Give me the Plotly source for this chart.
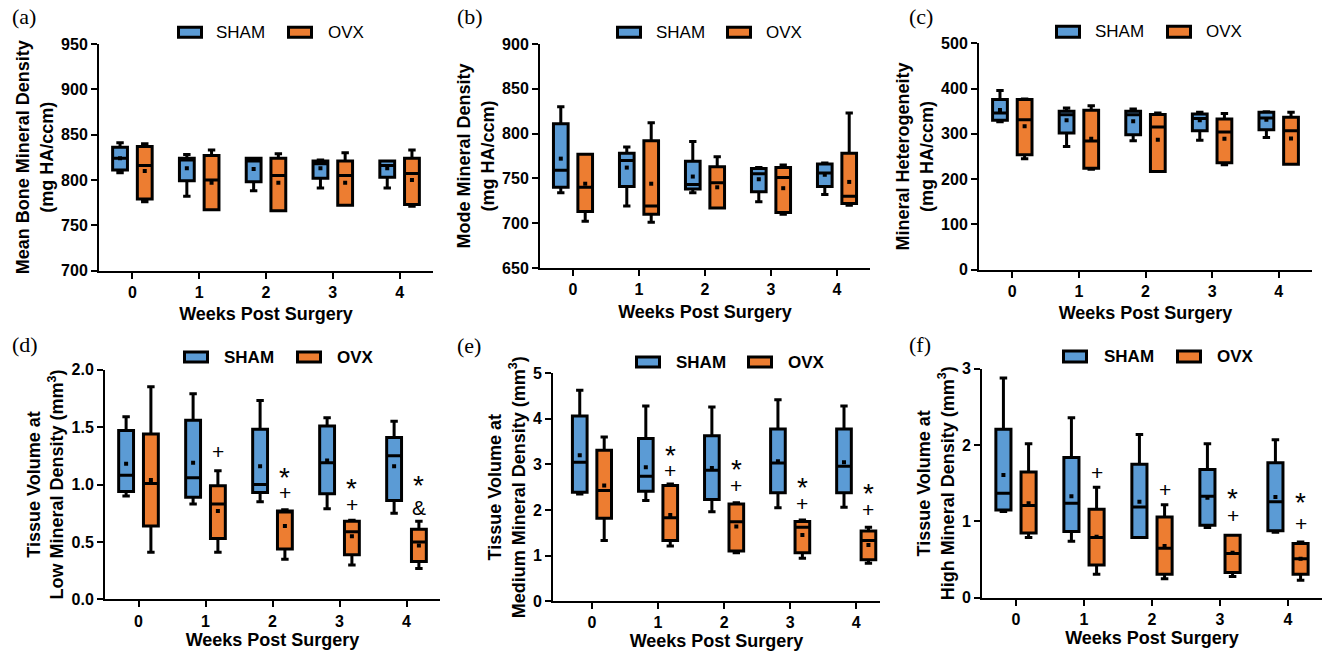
import plotly.graph_objects as go

# ---------------- data ----------------
weeks = [0, 1, 2, 3, 4]
tick_labels = ["0", "1", "2", "3", "4"]

# (a) Mean Bone Mineral Density
a_sham_lo = [808, 782, 788, 791, 791]
a_sham_q1 = [811, 799, 798, 802, 803]
a_sham_med = [824, 822, 821, 818, 816]
a_sham_q3 = [836, 824, 824, 821, 821]
a_sham_hi = [841, 828, 824, 822, 821]
a_sham_mean = [824, 813, 812, 813, 813]
a_ovx_lo = [776, 767, 766, 772, 771]
a_ovx_q1 = [779, 767, 766, 772, 773]
a_ovx_med = [816, 800, 805, 805, 807]
a_ovx_q3 = [837, 827, 824, 821, 824]
a_ovx_hi = [840, 833, 829, 830, 833]
a_ovx_mean = [810, 797, 797, 797, 800]

# (b) Mode Mineral Density
b_sham_lo = [734, 719, 734, 724, 732]
b_sham_q1 = [740, 741, 738, 735, 741]
b_sham_med = [759, 770, 743, 755, 756]
b_sham_q3 = [811, 778, 769, 761, 766]
b_sham_hi = [830, 785, 791, 762, 767]
b_sham_mean = [772, 762, 752, 749, 754]
b_ovx_lo = [702, 701, 717, 710, 720]
b_ovx_q1 = [713, 710, 717, 712, 722]
b_ovx_med = [740, 719, 745, 751, 730]
b_ovx_q3 = [777, 792, 763, 762, 778]
b_ovx_hi = [777, 812, 774, 765, 823]
b_ovx_mean = [744, 744, 740, 739, 746]

# (c) Mineral Heterogeneity
c_sham_lo = [327, 272, 285, 286, 292]
c_sham_q1 = [330, 302, 298, 307, 309]
c_sham_med = [346, 342, 342, 334, 335]
c_sham_q3 = [376, 350, 350, 344, 348]
c_sham_hi = [396, 357, 355, 348, 349]
c_sham_mean = [353, 330, 328, 330, 331]
c_ovx_lo = [245, 222, 217, 232, 233]
c_ovx_q1 = [254, 224, 217, 236, 233]
c_ovx_med = [331, 284, 315, 304, 307]
c_ovx_q3 = [376, 352, 343, 333, 337]
c_ovx_hi = [377, 362, 346, 345, 348]
c_ovx_mean = [317, 289, 287, 289, 290]

# (d) Tissue Volume at Low Mineral Density
d_sham_lo = [0.90, 0.83, 0.85, 0.79, 0.75]
d_sham_q1 = [0.94, 0.89, 0.93, 0.92, 0.86]
d_sham_med = [1.08, 1.06, 1.00, 1.19, 1.25]
d_sham_q3 = [1.47, 1.56, 1.48, 1.51, 1.41]
d_sham_hi = [1.59, 1.79, 1.73, 1.58, 1.55]
d_sham_mean = [1.18, 1.19, 1.16, 1.21, 1.16]
d_ovx_lo = [0.41, 0.41, 0.35, 0.30, 0.27]
d_ovx_q1 = [0.64, 0.53, 0.44, 0.39, 0.33]
d_ovx_med = [1.01, 0.83, 0.77, 0.59, 0.50]
d_ovx_q3 = [1.44, 0.99, 0.77, 0.68, 0.61]
d_ovx_hi = [1.85, 1.12, 0.78, 0.69, 0.68]
d_ovx_mean = [1.04, 0.77, 0.64, 0.55, 0.47]
d_sig_week = [1, 2, 2, 3, 3, 4, 4]
d_sig_text = ["+", "*", "+", "*", "+", "*", "&"]
d_sig_y = [1.30, 1.10, 0.94, 1.00, 0.835, 1.03, 0.81]

# (e) Tissue Volume at Medium Mineral Density
e_sham_lo = [2.35, 2.21, 1.96, 2.05, 2.06]
e_sham_q1 = [2.39, 2.41, 2.23, 2.38, 2.38]
e_sham_med = [3.05, 2.74, 2.87, 3.03, 2.96]
e_sham_q3 = [4.06, 3.57, 3.63, 3.78, 3.78]
e_sham_hi = [4.63, 4.28, 4.26, 4.42, 4.28]
e_sham_mean = [3.20, 2.94, 2.92, 3.07, 3.05]
e_ovx_lo = [1.33, 1.21, 1.06, 0.94, 0.83]
e_ovx_q1 = [1.82, 1.33, 1.10, 1.06, 0.91]
e_ovx_med = [2.43, 1.83, 1.74, 1.62, 1.33]
e_ovx_q3 = [3.31, 2.54, 2.13, 1.75, 1.54]
e_ovx_hi = [3.60, 2.57, 2.16, 1.78, 1.62]
e_ovx_mean = [2.54, 1.89, 1.64, 1.45, 1.23]
e_sig_week = [1, 1, 2, 2, 3, 3, 4, 4]
e_sig_text = ["*", "+", "*", "+", "*", "+", "*", "+"]
e_sig_y = [3.29, 2.88, 2.98, 2.57, 2.58, 2.17, 2.45, 2.04]

# (f) Tissue Volume at High Mineral Density
f_sham_lo = [1.13, 0.74, 0.79, 0.92, 0.86]
f_sham_q1 = [1.15, 0.87, 0.79, 0.95, 0.88]
f_sham_med = [1.37, 1.24, 1.19, 1.33, 1.26]
f_sham_q3 = [2.21, 1.84, 1.75, 1.68, 1.77]
f_sham_hi = [2.88, 2.36, 2.14, 2.02, 2.07]
f_sham_mean = [1.61, 1.33, 1.26, 1.31, 1.32]
f_ovx_lo = [0.79, 0.31, 0.25, 0.28, 0.23]
f_ovx_q1 = [0.85, 0.43, 0.31, 0.33, 0.31]
f_ovx_med = [1.21, 0.79, 0.65, 0.58, 0.51]
f_ovx_q3 = [1.65, 1.16, 1.06, 0.82, 0.71]
f_ovx_hi = [2.02, 1.45, 1.22, 0.82, 0.73]
f_ovx_mean = [1.24, 0.80, 0.68, 0.59, 0.51]
f_sig_week = [1, 2, 3, 3, 4, 4]
f_sig_text = ["+", "+", "*", "+", "*", "+"]
f_sig_y = [1.66, 1.43, 1.35, 1.09, 1.30, 0.99]

group_names = ["SHAM", "OVX"]

# ---------------- styling / layout ----------------
W, H = 1323, 655
BLUE = "#5B9BD5"
ORANGE = "#ED7D31"
SANS = "Liberation Sans, Arial, sans-serif"
SERIF = "Liberation Serif, Times New Roman, serif"
OFF = 0.185  # half distance between grouped boxes (in category units)
# the photographed page shows the figure slightly compressed vertically
# (about 8 px band above and below); target pixel rows are mapped back here
VY_OFF, VY_SCALE = 8.3, 0.9744


def px(x):
    return x / W


def py(y):
    return 1 - ((y - VY_OFF) / VY_SCALE) / H


panels = [
    dict(label="(a)", lab_xy=(10, 17),
         sham=(a_sham_lo, a_sham_q1, a_sham_med, a_sham_q3, a_sham_hi, a_sham_mean),
         ovx=(a_ovx_lo, a_ovx_q1, a_ovx_med, a_ovx_q3, a_ovx_hi, a_ovx_mean),
         dom_x=(99, 433), dom_y=(44.3, 271), xr=[-0.5, 4.5], yr=[700, 950], dtick=50, fmt="",
         ytitle="Mean Bone Mineral Density<br>(mg HA/ccm)", xstand=8,
         leg=(177, 214, 287, 326, 26, 39), bold=False, sig=None),
    dict(label="(b)", lab_xy=(455, 17),
         sham=(b_sham_lo, b_sham_q1, b_sham_med, b_sham_q3, b_sham_hi, b_sham_mean),
         ovx=(b_ovx_lo, b_ovx_q1, b_ovx_med, b_ovx_q3, b_ovx_hi, b_ovx_mean),
         dom_x=(540, 870), dom_y=(44.3, 268.3), xr=[-0.5, 4.5], yr=[650, 900], dtick=50, fmt="",
         ytitle="Mode Mineral Density<br>(mg HA/ccm)", xstand=8,
         leg=(616, 654, 726, 764, 26, 39), bold=False, sig=None),
    dict(label="(c)", lab_xy=(907, 17),
         sham=(c_sham_lo, c_sham_q1, c_sham_med, c_sham_q3, c_sham_hi, c_sham_mean),
         ovx=(c_ovx_lo, c_ovx_q1, c_ovx_med, c_ovx_q3, c_ovx_hi, c_ovx_mean),
         dom_x=(979, 1312), dom_y=(43.7, 270), xr=[-0.5, 4.5], yr=[0, 500], dtick=100, fmt="",
         ytitle="Mineral Heterogeneity<br>(mg HA/ccm)", xstand=8,
         leg=(1055, 1093, 1166, 1204, 25, 39), bold=False, sig=None),
    dict(label="(d)", lab_xy=(10, 345),
         sham=(d_sham_lo, d_sham_q1, d_sham_med, d_sham_q3, d_sham_hi, d_sham_mean),
         ovx=(d_ovx_lo, d_ovx_q1, d_ovx_med, d_ovx_q3, d_ovx_hi, d_ovx_mean),
         dom_x=(105, 440), dom_y=(370, 600), xr=[-0.5, 4.5], yr=[0, 2.0], dtick=0.5, fmt=".1f",
         ytitle="Tissue Volume at<br>Low Mineral Density (mm<sup>3</sup>)", xstand=1,
         leg=(183, 222, 296, 335, 351, 364), bold=True,
         sig=(d_sig_week, d_sig_text, d_sig_y)),
    dict(label="(e)", lab_xy=(455, 346),
         sham=(e_sham_lo, e_sham_q1, e_sham_med, e_sham_q3, e_sham_hi, e_sham_mean),
         ovx=(e_ovx_lo, e_ovx_q1, e_ovx_med, e_ovx_q3, e_ovx_hi, e_ovx_mean),
         dom_x=(553, 880), dom_y=(373.7, 601.7), xr=[-0.59, 4.36], yr=[0, 5], dtick=1, fmt="",
         ytitle="Tissue Volume at<br>Medium Mineral Density (mm<sup>3</sup>)", xstand=1,
         leg=(635, 674, 747, 786, 356, 369), bold=True,
         sig=(e_sig_week, e_sig_text, e_sig_y)),
    dict(label="(f)", lab_xy=(907, 345),
         sham=(f_sham_lo, f_sham_q1, f_sham_med, f_sham_q3, f_sham_hi, f_sham_mean),
         ovx=(f_ovx_lo, f_ovx_q1, f_ovx_med, f_ovx_q3, f_ovx_hi, f_ovx_mean),
         dom_x=(982, 1322), dom_y=(369.3, 598.3), xr=[-0.5, 4.5], yr=[0, 3], dtick=1, fmt="",
         ytitle="Tissue Volume at<br>High Mineral Density (mm<sup>3</sup>)", xstand=1,
         leg=(1062, 1102, 1176, 1215, 350, 364), bold=True,
         sig=(f_sig_week, f_sig_text, f_sig_y)),
]

fig = go.Figure()
layout = dict(
    width=W, height=H,
    margin=dict(l=0, r=0, t=0, b=0),
    paper_bgcolor="white", plot_bgcolor="white",
    boxmode="group", boxgap=0.26, boxgroupgap=0.40,
    showlegend=False,
    font=dict(family=SANS, color="black"),
)
shapes = []
annotations = []

for i, p in enumerate(panels, start=1):
    xa = "x" if i == 1 else f"x{i}"
    ya = "y" if i == 1 else f"y{i}"
    for gname, stats, color, sign in (("SHAM", p["sham"], BLUE, -1), ("OVX", p["ovx"], ORANGE, 1)):
        lo, q1, med, q3, hi, mean = stats
        fig.add_trace(go.Box(
            x=weeks, lowerfence=lo, q1=q1, median=med, q3=q3, upperfence=hi,
            name=gname, offsetgroup=gname, alignmentgroup=f"g{i}",
            fillcolor=color, line=dict(color="black", width=3),
            whiskerwidth=0.5, boxpoints=False, xaxis=xa, yaxis=ya,
            showlegend=False,
        ))
        fig.add_trace(go.Scatter(
            x=[w + sign * OFF for w in weeks], y=mean, mode="markers",
            marker=dict(symbol="square", size=4, color="black"),
            xaxis=xa, yaxis=ya, showlegend=False, hoverinfo="skip",
        ))

    axis_common = dict(
        showline=True, linecolor="black", linewidth=2,
        ticks="outside", ticklen=6, tickwidth=2, tickcolor="black",
        showgrid=False, zeroline=False,
        tickfont=dict(family=SANS, size=16, color="black", weight="bold"),
    )
    layout["xaxis" if i == 1 else f"xaxis{i}"] = dict(
        axis_common,
        domain=[px(p["dom_x"][0]), px(p["dom_x"][1])],
        anchor=ya, range=p["xr"], tickmode="array", tickvals=weeks, ticktext=tick_labels,
        title=dict(text="Weeks Post Surgery", standoff=p["xstand"],
                   font=dict(family=SANS, size=18, color="black", weight="bold")),
    )
    layout["yaxis" if i == 1 else f"yaxis{i}"] = dict(
        axis_common,
        domain=[py(p["dom_y"][1]), py(p["dom_y"][0])],
        anchor=xa, range=p["yr"], tick0=0, dtick=p["dtick"], tickformat=p["fmt"],
        title=dict(text=p["ytitle"], standoff=3,
                   font=dict(family=SANS, size=18, color="black", weight="bold")),
    )

    # panel label
    annotations.append(dict(
        text=p["label"], x=px(p["lab_xy"][0]), y=py(p["lab_xy"][1]), xref="paper", yref="paper",
        xanchor="left", yanchor="middle", showarrow=False,
        font=dict(family=SERIF, size=22, color="black"),
    ))

    # legend (icons + labels)
    sx, stx, ox, otx, ly0, ly1 = p["leg"]
    for (ix, tx, color, gname) in ((sx, stx, BLUE, group_names[0]), (ox, otx, ORANGE, group_names[1])):
        shapes.append(dict(
            type="rect", xref="paper", yref="paper",
            x0=px(ix + 1.5), x1=px(ix + 24.5), y0=py(ly1 - 1.5), y1=py(ly0 + 1.5),
            fillcolor=color, line=dict(color="black", width=3),
        ))
        annotations.append(dict(
            text=gname, x=px(tx), y=py((ly0 + ly1) / 2), xref="paper", yref="paper",
            xanchor="left", yanchor="middle", showarrow=False,
            font=dict(family=SANS, size=17, color="black",
                      weight="bold" if p["bold"] else "normal"),
        ))

    # significance symbols above OVX boxes
    if p["sig"] is not None:
        sw, st, sy = p["sig"]
        for w, t, yv in zip(sw, st, sy):
            star = t == "*"
            annotations.append(dict(
                text=t, x=w + OFF, y=yv, xref=xa, yref=ya,
                xanchor="center", yanchor="middle", showarrow=False,
                yshift=-4 if star else -1,
                font=dict(family=SANS, size=28 if star else 21, color="black"),
            ))

layout["shapes"] = shapes
layout["annotations"] = annotations
fig.update_layout(**layout)
fig.write_html(
    "out.html",
    config={"displayModeBar": False},
    post_script="document.body.style.margin='0';document.body.style.overflow='hidden';",
)
